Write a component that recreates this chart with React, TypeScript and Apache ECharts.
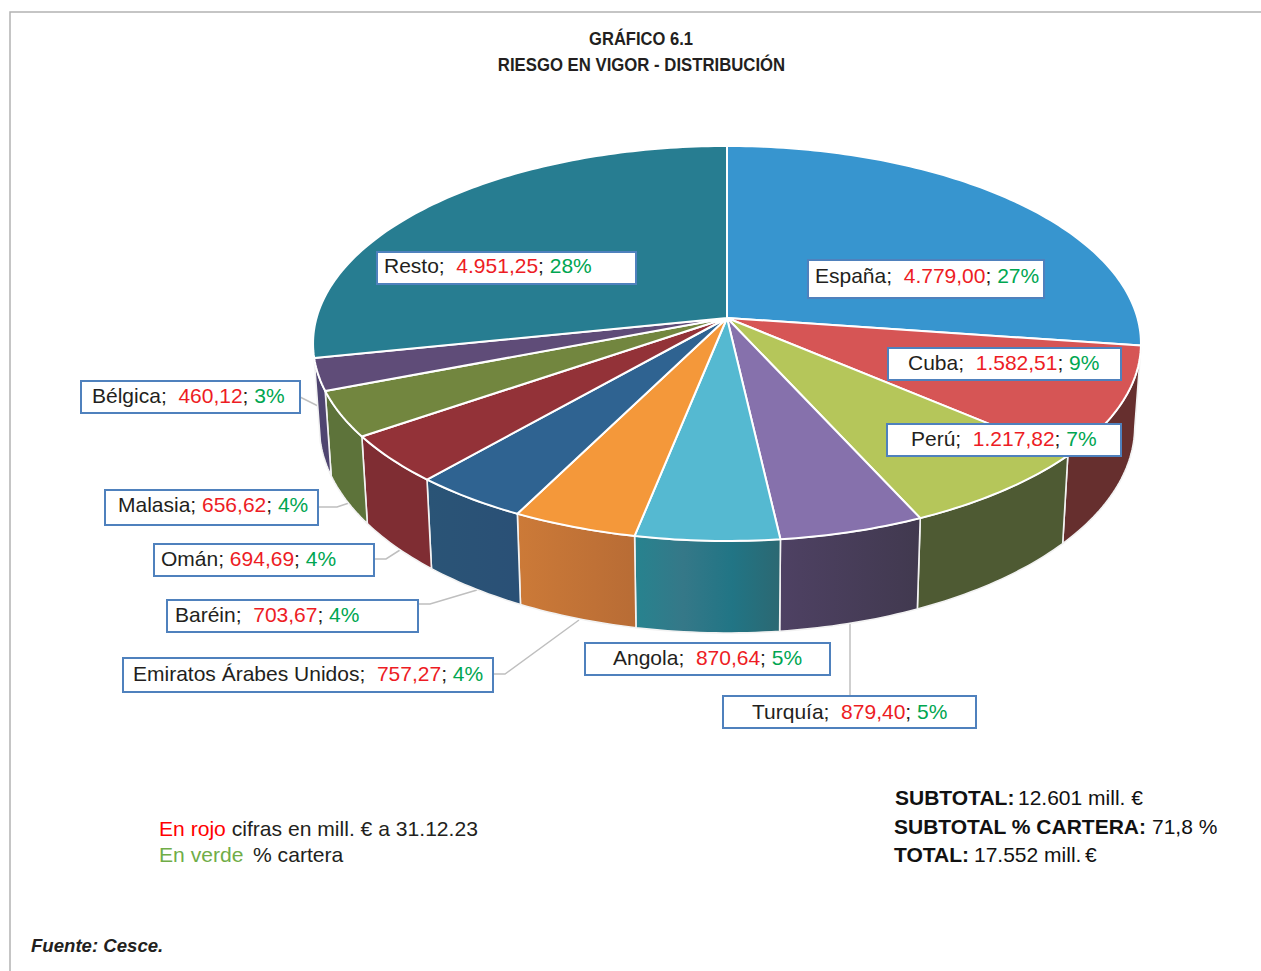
import React, { useEffect, useRef } from "react";
import * as echarts from "echarts";

const categories = ["España", "Cuba", "Perú", "Turquía", "Angola", "Emiratos Árabes Unidos", "Baréin", "Omán", "Malasia", "Bélgica", "Resto"];
const amounts = [4779.0, 1582.51, 1217.82, 879.4, 870.64, 757.27, 703.67, 694.69, 656.62, 460.12, 4951.25];
const amountLabels = ["4.779,00", "1.582,51", "1.217,82", "879,40", "870,64", "757,27", "703,67", "694,69", "656,62", "460,12", "4.951,25"];
const shareLabels = ["27%", "9%", "7%", "5%", "5%", "4%", "4%", "4%", "4%", "3%", "28%"];
const separators = ["  ", "  ", "  ", "  ", "  ", "  ", "  ", " ", " ", "  ", "  "];

const topColors = ["#3795CF", "#D65555", "#B5C65A", "#8671AC", "#55B9D1", "#F4983A", "#2F6391", "#933238", "#72863F", "#5F4C78", "#277D91"];
const sideColors: string[][] = [
  ["#2A6F9B", "#2A6F9B"],
  ["#662F2E", "#662F2E"],
  ["#4E5A33", "#4E5A33"],
  ["#4E4163", "#41394F"],
  ["#27838F", "#357888", "#217585", "#2C6872"],
  ["#CC7A38", "#B86C35"],
  ["#2A5476", "#2A5076"],
  ["#7F2D33", "#7F2D33"],
  ["#5D733A", "#5D733A"],
  ["#4F4570", "#4F4570"],
  ["#1D5E6D", "#1D5E6D"],
];

// Label box layout: left, top, right, bottom, text x, text y
const labelBoxes = [
  [808, 260, 1044, 298, 815, 275],
  [888, 348, 1121, 380, 908, 362],
  [887, 424, 1121, 456, 911, 438],
  [723, 696, 976, 728, 752, 711],
  [585, 643, 830, 675, 613, 657],
  [123, 658, 493, 692, 133, 673],
  [167, 600, 418, 632, 175, 614],
  [154, 544, 374, 576, 161, 558],
  [105, 490, 318, 525, 118, 504],
  [81, 381, 300, 413, 92, 395],
  [377, 252, 636, 284, 384, 265],
];
const leaders = [
  [[300, 397], [320, 407]],
  [[318, 507], [337, 507], [349, 503]],
  [[374, 559], [386, 559], [400, 550]],
  [[418, 604], [430, 604], [477, 590]],
  [[493, 674], [505, 674], [579, 620]],
  [[850, 622], [850, 696]],
];

const FONT = "'Liberation Sans', Arial, sans-serif";
const INK = "#231F20";
const RED = "#ED1C24";
const GREEN = "#00A651";

const total = amounts.reduce((a, b) => a + b, 0);
const starts: number[] = [];
amounts.reduce((acc, v, i) => {
  starts[i] = acc;
  return acc + v;
}, 0);

// Perspective projection of the pie's circular top face
const CX = 727;
const CY = 318;
const B = 410.5;
const A = 194.2;
const P = 0.129;
function topPoint(theta: number): [number, number] {
  const X = Math.sin(theta);
  const Y = Math.cos(theta);
  const d = 1 + P * Y;
  return [CX + (B * X) / d, CY - (A * Y) / d];
}
function lowPoint(theta: number): [number, number] {
  const [x, y] = topPoint(theta);
  return [CX + (x - CX) * 0.985, 633 + (y - 541) * 1.047];
}
function arc(fn: (t: number) => [number, number], a0: number, a1: number) {
  const n = Math.max(2, Math.ceil(((a1 - a0) * 180) / Math.PI));
  const pts: [number, number][] = [];
  for (let i = 0; i <= n; i++) pts.push(fn(a0 + ((a1 - a0) * i) / n));
  return pts;
}
function angles(i: number, value: number) {
  const a0 = (starts[i] / total) * Math.PI * 2;
  return [a0, a0 + (value / total) * Math.PI * 2];
}

const renderSide = (params: any, api: any) => {
  const i = params.dataIndex;
  const [a0, a1] = angles(i, api.value(0));
  // A slice facing away from the viewer has no visible outer wall
  if (Math.cos((a0 + a1) / 2) > 0) return null;
  const points = [...arc(topPoint, a0, a1), ...arc(lowPoint, a0, a1).reverse()];
  const stops = sideColors[i];
  return {
    type: "polygon",
    shape: { points },
    style: {
      fill: new echarts.graphic.LinearGradient(0, 0, 1, 0, stops.map((color, k) => ({ offset: k / (stops.length - 1), color }))),
      stroke: "#F2F2F2",
      lineWidth: 1.6,
      lineJoin: "round",
    },
  };
};
const renderTop = (params: any, api: any) => {
  const i = params.dataIndex;
  const [a0, a1] = angles(i, api.value(0));
  return {
    type: "polygon",
    shape: { points: [[CX, CY], ...arc(topPoint, a0, a1)] },
    style: { fill: topColors[i], stroke: "#FFFFFF", lineWidth: 2, lineJoin: "round" },
  };
};

function txt(x: number, y: number, text: string, rich: any, fontSize: number, extra: any = {}, style: any = {}) {
  return {
    type: "text",
    z: 20,
    x,
    y,
    ...extra,
    style: {
      text,
      rich,
      fontFamily: FONT,
      fontSize,
      fill: INK,
      textVerticalAlign: "middle",
      verticalAlign: "middle",
      ...style,
    },
  };
}
function token(fill: string, fontSize: number, fontWeight = "normal") {
  return { fill, color: fill, fontSize, fontFamily: FONT, fontWeight };
}

export default function App() {
  const ref = useRef<HTMLDivElement>(null);
  useEffect(() => {
    const chart = echarts.init(ref.current!, undefined, { renderer: "svg" });
    const LS = 21;
    const labelRich = { n: token(INK, LS), r: token(RED, LS), g: token(GREEN, LS) };
    const NS = 21;
    const NOTE = 21.1;
    const noteRich = { k: token(INK, NOTE), r: token("#FF0000", NOTE), v: token("#70AD47", NOTE) };
    const bold = { fontWeight: "bold", fill: "#111111" };
    const plain = { fill: "#111111" };
    const graphic: any[] = [
      { type: "polyline", z: 0, shape: { points: [[10, 971], [10, 12], [1261, 12]] }, style: { stroke: "#B3B3B3", lineWidth: 1.5, fill: "none" } },
      ...leaders.map((points) => ({ type: "polyline", z: 0, shape: { points }, style: { stroke: "#BFBFBF", lineWidth: 1.5, fill: "none" } })),
      ...labelBoxes.map(([l, t, r, b]) => ({
        type: "rect",
        z: 10,
        shape: { x: l, y: t, width: r - l, height: b - t },
        style: { fill: "#FFFFFF", stroke: "#4F81BD", lineWidth: 2 },
      })),
      ...categories.map((name, i) => {
        const [, , , , x, y] = labelBoxes[i];
        return txt(x, y, `{n|${name};${separators[i]}}{r|${amountLabels[i]}}{n|; }{g|${shareLabels[i]}}`, labelRich, LS);
      }),
      txt(641, 39, "GRÁFICO 6.1", undefined, 18, { scaleX: 0.92 }, { fontWeight: "bold", textAlign: "center" }),
      txt(641.5, 65, "RIESGO EN VIGOR - DISTRIBUCIÓN", undefined, 18, { scaleX: 0.93 }, { fontWeight: "bold", textAlign: "center" }),
      txt(159, 828, "{r|En rojo}{k| cifras en mill. € a 31.12.23}", noteRich, NOTE),
      txt(159, 854, "{v|En verde}", noteRich, NOTE),
      txt(253, 854, "% cartera", undefined, NOTE),
      txt(895, 797, "SUBTOTAL:", undefined, NS, {}, bold),
      txt(1018, 797, "12.601 mill. €", undefined, NS, {}, plain),
      txt(894, 826, "SUBTOTAL % CARTERA:", undefined, NS, {}, bold),
      txt(1152, 826, "71,8 %", undefined, NS, {}, plain),
      txt(894, 854, "TOTAL:", undefined, NS, {}, bold),
      txt(974, 854, "17.552 mill.", undefined, NS, {}, plain),
      txt(1085, 854, "€", undefined, NS, {}, plain),
      txt(31, 945, "Fuente: Cesce.", undefined, 18.6, {}, { fontWeight: "bold", fontStyle: "italic" }),
    ];
    chart.setOption({
      animation: false,
      backgroundColor: "#FFFFFF",
      graphic: { elements: graphic },
      series: [
        { type: "custom", name: "Lateral", coordinateSystem: "none", silent: true, z: 2, clip: false, data: amounts, renderItem: renderSide },
        { type: "custom", name: "Riesgo en vigor", coordinateSystem: "none", silent: true, z: 3, clip: false, data: amounts, renderItem: renderTop },
      ],
    });
    return () => chart.dispose();
  }, []);
  return <div ref={ref} style={{ position: "absolute", left: 0, top: 0, width: 1261, height: 971 }} />;
}
